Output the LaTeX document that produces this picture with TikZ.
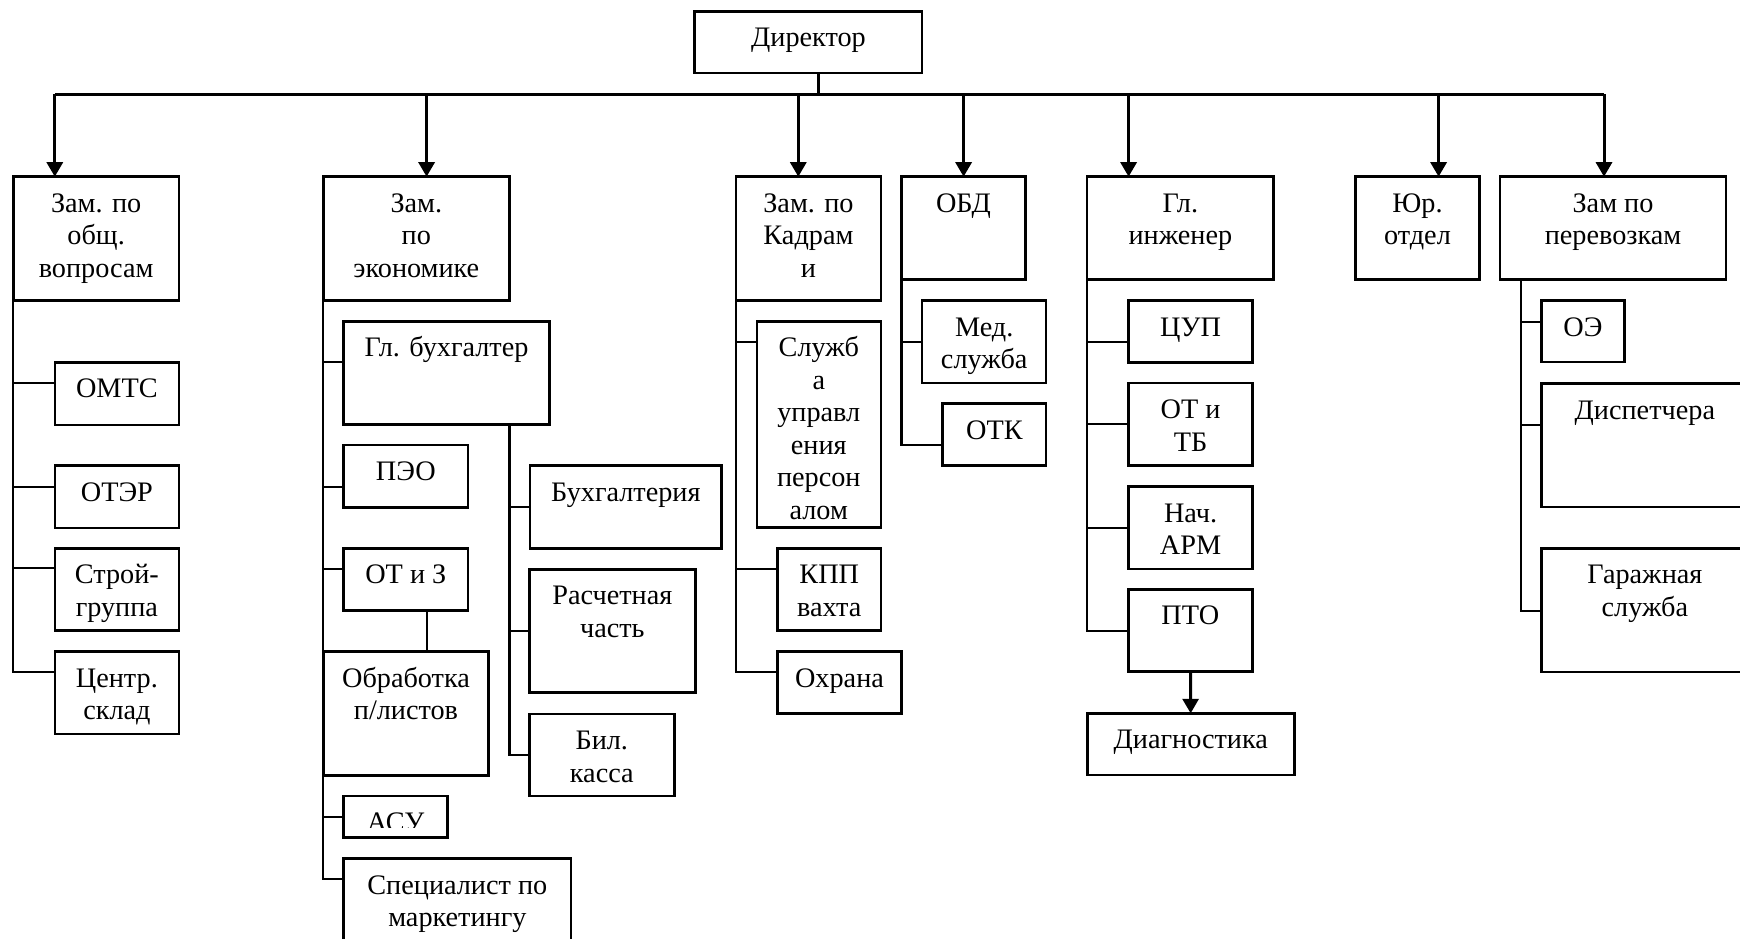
\documentclass[tikz,border=0pt]{standalone}
\usepackage{fontspec}
\setmainfont{Liberation Serif}
\usetikzlibrary{arrows.meta}
\tikzset{
  boxst/.style={draw, line width=1pt, inner sep=0pt, outer sep=0pt, rectangle},
  txt/.style={anchor=north, inner sep=0pt, yshift=-4pt, align=center, font=\fontsize{11.3}{13}\selectfont},
  ln/.style={line width=0.9pt},
  arr/.style={line width=1.2pt, -{Triangle[length=5.8pt,width=6.4pt]}}
}
\newcommand\bx[6]{%
  \node[boxst, anchor=north west, minimum width={(#4-#2)*0.4pt}, minimum height={(#5-#3)*0.4pt}] (#1) at (#2,#3) {};
  \node[txt] (#1-t) at (#1.north) {\rule{0pt}{10pt}#6};
}
% connector: trunk start, child node, y of connector
\newcommand\cn[3]{%
  \path (0,#3) coordinate (#2-y);
  \coordinate (#2-c) at (#2.west |- #2-y);
  \draw[ln] (#1) |- (#2-c);
}
\begin{document}
\begin{tikzpicture}[x=0.4pt,y=-0.4pt]
\useasboundingbox (0,0) rectangle (1740,939);

% top level
\bx{dir}{694.7}{11.3}{922.2}{73}{Директор}
\bx{zam1}{13.3}{176.7}{179}{300.7}{Зам. по\\общ.\\вопросам}
\bx{zam2}{323.3}{176.7}{509.4}{300.7}{Зам.\\по\\экономике}
\bx{zam3}{736.1}{176.7}{880.8}{300.7}{Зам. по\\Кадрам\\и}
\bx{obd}{901.5}{176.7}{1025.4}{279.7}{ОБД}
\bx{glin}{1087.2}{176.7}{1273.6}{279.7}{Гл.\\инженер}
\bx{yur}{1355.3}{176.7}{1479.6}{279.7}{Юр.\\отдел}
\bx{per}{1500}{176.7}{1726}{279.7}{Зам по\\перевозкам}

% bus and arrows
\coordinate (stem) at (818.6,94.3);
\coordinate (b-zam1) at (54.8,94.3);
\coordinate (b-zam2) at (426.6,94.3);
\coordinate (b-zam3) at (798.3,94.3);
\coordinate (b-obd) at (963.6,94.3);
\coordinate (b-glin) at (1128.6,94.3);
\coordinate (b-yur) at (1438.6,94.3);
\coordinate (b-per) at (1604,94.3);
\draw[ln, line width=1pt] (dir.south -| stem) -- (stem);
\draw[ln, line width=1pt] (b-zam1) -- (b-per);
\foreach \n in {zam1,zam2,zam3,obd,glin,yur,per}{
  \draw[arr] (b-\n) -- (b-\n |- \n.north);
}

% column 1
\bx{omts}{54.8}{362.3}{179}{425}{ОМТС}
\bx{oter}{54.8}{465.7}{179}{528}{ОТЭР}
\bx{stroy}{54.8}{548.3}{179}{630.7}{Строй-\\группа}
\bx{sklad}{54.8}{651.7}{179}{734}{Центр.\\склад}
\cn{zam1.south west}{omts}{383}
\cn{zam1.south west}{oter}{487}
\cn{zam1.south west}{stroy}{568.3}
\cn{zam1.south west}{sklad}{672.3}

% column 2
\bx{glb}{343.7}{321.3}{549.4}{424.7}{Гл. бухгалтер}
\bx{peo}{343.7}{445}{468}{507.3}{ПЭО}
\bx{otz}{343.7}{548.3}{468}{610.3}{ОТ и З}
\bx{obr}{323.3}{651.7}{488.7}{775.7}{Обработка\\п/листов}
\bx{asu}{343.7}{796}{447.3}{837.5}{}
\bx{spec}{343.7}{858.5}{571}{960}{Специалист по\\маркетингу}
\cn{zam2.south west}{glb}{362.3}
\cn{zam2.south west}{peo}{487}
\cn{zam2.south west}{otz}{569.3}
\cn{zam2.south west}{asu}{817.3}
\cn{zam2.south west}{spec}{879}
\coordinate (oz) at (427.3,0);
\draw[ln] (otz.south -| oz) -- (obr.north -| oz);
\begin{scope}
  \path (0,827) coordinate (asucut);
  \clip (asu.north west) rectangle (asu.east |- asucut);
  \node[txt] (asu-tt) at (asu.north) {\rule{0pt}{10pt}АСУ};
\end{scope}

% accounting sub-column
\coordinate (glb-t) at (509.4,424.7);
\bx{buh}{530.1}{465.7}{721.7}{548.3}{Бухгалтерия}
\bx{rasch}{529.3}{569.3}{695.4}{692.3}{Расчетная\\часть}
\bx{kassa}{529.3}{714}{674.3}{796}{Бил.\\касса}
\cn{glb-t}{buh}{507.3}
\cn{glb-t}{rasch}{631}
\cn{glb-t}{kassa}{755}

% column 3
\bx{sluzh}{756.8}{321.3}{880.8}{527.5}{Служб\\а\\управл\\ения\\персон\\алом}
\bx{kpp}{777.5}{548.3}{881}{630.7}{КПП\\вахта}
\bx{ohr}{777.3}{651.7}{901.7}{713.3}{Охрана}
\cn{zam3.south west}{sluzh}{341.7}
\cn{zam3.south west}{kpp}{569.3}
\cn{zam3.south west}{ohr}{672.3}

% column 4
\bx{med}{922.2}{300.7}{1046.2}{383}{Мед.\\служба}
\bx{otk}{942.6}{403.7}{1046.2}{465.7}{ОТК}
\cn{obd.south west}{med}{341.7}
\cn{obd.south west}{otk}{445}

% column 5
\bx{cup}{1128.6}{300.7}{1252.5}{362.3}{ЦУП}
\bx{ottb}{1128.6}{383}{1252.5}{465.7}{ОТ и\\ТБ}
\bx{arm}{1128.6}{486.7}{1252.5}{569}{Нач.\\АРМ}
\bx{pto}{1128.3}{589.3}{1252.3}{671.7}{ПТО}
\bx{diag}{1087.3}{713.3}{1294.3}{775}{Диагностика}
\cn{glin.south west}{cup}{341.7}
\cn{glin.south west}{ottb}{424.3}
\cn{glin.south west}{arm}{528}
\cn{glin.south west}{pto}{631}
\draw[arr] (pto) -- (diag);

% column 7
\coordinate (per-t) at (1521,279.7);
\bx{oe}{1541.7}{300.7}{1624.3}{362}{ОЭ}
\bx{disp}{1541.7}{383.7}{1748}{507}{Диспетчера}
\bx{garazh}{1541.7}{548.3}{1748}{672}{Гаражная\\служба}
\cn{per-t}{oe}{321.7}
\cn{per-t}{disp}{425}
\cn{per-t}{garazh}{610.7}
\end{tikzpicture}
\end{document}
